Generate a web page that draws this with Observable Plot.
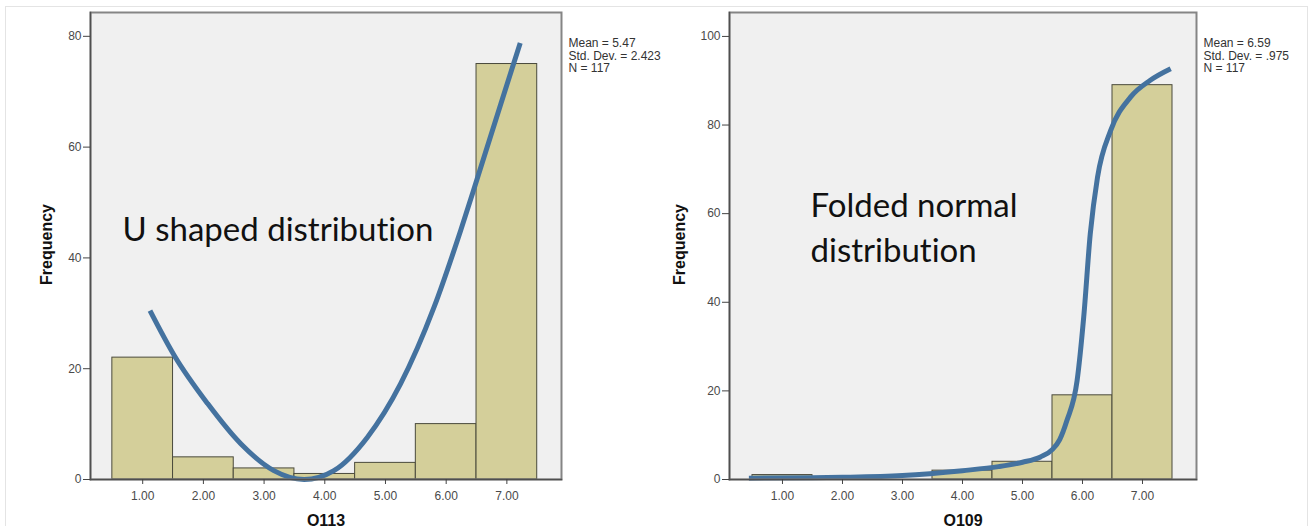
<!DOCTYPE html>
<html>
<head>
<meta charset="utf-8">
<script src="https://cdn.jsdelivr.net/npm/d3@7"></script>
<script src="https://cdn.jsdelivr.net/npm/@observablehq/plot@0.6"></script>
<style>
html, body { margin: 0; padding: 0; background: #fff; width: 1309px; height: 526px; overflow: hidden; }
#wrap { position: relative; width: 1309px; height: 526px; }
#border { position: absolute; left: 5px; top: 6px; width: 1303px; height: 560px; border: 1.5px solid #e4e4e4; box-sizing: border-box; }
#left { position: absolute; left: 0; top: 0; }
#right { position: absolute; left: 650px; top: 0; }
svg text { font-variant-ligatures: none; font-feature-settings: "liga" 0, "clig" 0; }
</style>
</head>
<body>
<div id="wrap">
  <div id="border"></div>
  <div id="left"></div>
  <div id="right"></div>
</div>
<script>
// ---- data ----
const bins = [1, 2, 3, 4, 5, 6, 7];
const countsQ113 = [22, 4, 2, 1, 3, 10, 75];
const countsQ109 = [1, 0, 0, 2, 4, 19, 89];

const curveQ113X = [1.12, 1.52, 2.07, 2.62, 3.16, 3.66, 4.15, 4.70, 5.25, 5.80, 6.24, 6.52, 6.90, 7.22];
const curveQ113Y = [30.5, 22.4, 13.7, 6.4, 1.6, 0.0, 1.6, 7.6, 17.3, 31.1, 45.0, 54.6, 67.8, 78.8];

const curveQ109X = [0.44, 1.5, 2.0, 3.0, 4.0, 4.6, 5.0, 5.3, 5.5, 5.62, 5.74, 5.91, 6.02, 6.13, 6.25, 6.47, 6.8, 7.13, 7.47];
const curveQ109Y = [0.3, 0.4, 0.5, 0.9, 2.0, 2.9, 3.9, 5.1, 6.8, 9.0, 13.3, 22.3, 36.6, 55.5, 68.2, 78.8, 86.3, 90.1, 92.7];

const xTicks = [1, 2, 3, 4, 5, 6, 7];
const yTicksQ113 = [0, 20, 40, 60, 80];
const yTicksQ109 = [0, 20, 40, 60, 80, 100];

const statsQ113 = ["Mean = 5.47", "Std. Dev. = 2.423", "N = 117"];
const statsQ109 = ["Mean = 6.59", "Std. Dev. = .975", "N = 117"];

const labelQ113 = "Q113";
const labelQ109 = "Q109";
const yLabel = "Frequency";
const noteQ113 = "U shaped distribution";
const noteQ109 = "Folded normal\ndistribution";

// ---- styles ----
const barFill = "#d4cf9a";
const barStroke = "#4a4a3c";
const curveColor = "#44729f";
const bgColor = "#f0f0f0";

function panel({counts, cx, cy, xDomain, yDomain, yTicks, stats, xLabel, note, width, mL, mR, noteDx, noteDy, yLabelDx}) {
  const bars = bins.map((b, i) => ({x1: b - 0.5, x2: b + 0.5, y: counts[i]})).filter(d => d.y > 0);
  const curve = cx.map((x, i) => ({x, y: cy[i]}));
  return Plot.plot({
    width,
    height: 526,
    marginLeft: mL,
    marginRight: mR,
    marginTop: 12,
    marginBottom: 47,
    style: {fontFamily: "'Liberation Sans', Arial, sans-serif", fontSize: "12px", background: "transparent", overflow: "visible"},
    x: {domain: xDomain, type: "linear"},
    y: {domain: yDomain, type: "linear"},
    marks: [
      Plot.frame({fill: bgColor, stroke: null}),
      Plot.rectY(bars, {x1: "x1", x2: "x2", y: "y", fill: barFill, stroke: barStroke, strokeWidth: 1}),
      Plot.line(curve, {x: "x", y: "y", curve: "monotone-x", stroke: curveColor, strokeWidth: 5, strokeLinecap: "butt"}),
      Plot.frame({stroke: "#858585", strokeWidth: 2}),
      Plot.frame({anchor: "left", stroke: "#4f4f4f", strokeWidth: 1.5}),
      Plot.frame({anchor: "bottom", stroke: "#4f4f4f", strokeWidth: 1.5}),
      Plot.axisY({ticks: yTicks, tickFormat: "d", tickSize: 7, tickPadding: 2, label: null, fill: "#4a4a4a", stroke: "#444", fontSize: 12}),
      Plot.axisX({ticks: xTicks, tickFormat: ".2f", tickSize: 5, tickPadding: 7, label: null, fill: "#4a4a4a", stroke: "#444", fontSize: 12}),
      Plot.text([stats.join("\n")], {frameAnchor: "top-right", textAnchor: "start", lineAnchor: "top", dx: 7, dy: 26, fontSize: 12, lineHeight: 1.04, fill: "#333"}),
      Plot.text([yLabel], {frameAnchor: "left", rotate: -90, textAnchor: "middle", lineAnchor: "bottom", dx: yLabelDx, dy: -1.5, fontSize: 16, fontWeight: "bold", fill: "#111"}),
      Plot.text([xLabel], {frameAnchor: "bottom", textAnchor: "middle", lineAnchor: "bottom", dy: 46, fontSize: 16, fontWeight: "bold", fill: "#111"}),
      Plot.text([note], {frameAnchor: "top-left", textAnchor: "start", lineAnchor: "bottom", dx: noteDx, dy: noteDy, fontSize: 33, lineHeight: 1.34, fontFamily: "Lato", fill: "#111"})
    ]
  });
}

document.getElementById("left").append(panel({
  counts: countsQ113, cx: curveQ113X, cy: curveQ113Y,
  xDomain: [0.14, 7.9], yDomain: [0, 84.3], yTicks: yTicksQ113,
  stats: statsQ113, xLabel: labelQ113, note: noteQ113,
  width: 650, mL: 90, mR: 89, noteDx: 32, noteDy: 228, yLabelDx: -38.5
}));

document.getElementById("right").append(panel({
  counts: countsQ109, cx: curveQ109X, cy: curveQ109Y,
  xDomain: [0.117, 7.9], yDomain: [0, 105.4], yTicks: yTicksQ109,
  stats: statsQ109, xLabel: labelQ109, note: noteQ109,
  width: 659, mL: 79, mR: 113, noteDx: 81, noteDy: 249, yLabelDx: -44.5
}));
</script>
</body>
</html>
